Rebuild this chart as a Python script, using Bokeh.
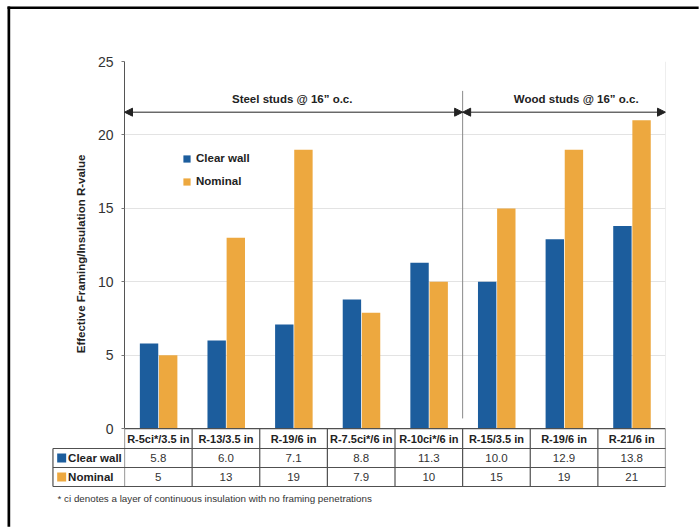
from math import pi

from bokeh.core.properties import value
from bokeh.embed import file_html
from bokeh.models import (Arrow, ColumnDataSource, FactorRange, FixedTicker,
                          Legend, LegendItem, NormalHead, Range1d)
from bokeh.plotting import figure
from bokeh.resources import INLINE
from bokeh.transform import dodge

# ---- data -------------------------------------------------------------
steel_group = "Steel studs @ 16” o.c."
wood_group = "Wood studs @ 16” o.c."
steel_sizes = ["R-5ci*/3.5 in", "R-13/3.5 in", "R-19/6 in", "R-7.5ci*/6 in", "R-10ci*/6 in"]
wood_sizes = ["R-15/3.5 in", "R-19/6 in", "R-21/6 in"]
clear_wall = [5.8, 6.0, 7.1, 8.8, 11.3, 10.0, 12.9, 13.8]
nominal = [5, 13, 19, 7.9, 10, 15, 19, 21]
clear_wall_text = ["5.8", "6.0", "7.1", "8.8", "11.3", "10.0", "12.9", "13.8"]
nominal_text = ["5", "13", "19", "7.9", "10", "15", "19", "21"]
y_ticks = [0, 5, 10, 15, 20, 25]
series_names = ["Clear wall", "Nominal"]
y_title = "Effective Framing/Insulation R-value"
footnote = "* ci denotes a layer of continuous insulation with no framing penetrations"

# ---- styling ----------------------------------------------------------
BLUE = "#1c5d9d"
ORANGE = "#eda83f"
FONT = "Liberation Sans"
TABLE_LINE = "#505050"
INK = "#222222"

factors = [(steel_group, s) for s in steel_sizes] + [(wood_group, s) for s in wood_sizes]
n_steel, n_all = len(steel_sizes), len(factors)

src = ColumnDataSource(dict(x=factors, clear=clear_wall, nominal=nominal,
                            clear_txt=clear_wall_text, nominal_txt=nominal_text,
                            size=steel_sizes + wood_sizes))

p = figure(width=700, height=528, output_backend="svg", toolbar_location=None,
           x_range=FactorRange(*factors, group_padding=0, factor_padding=0,
                               subgroup_padding=0, range_padding=0),
           y_range=Range1d(-5.5, 25), x_axis_location=None,
           min_border_left=124, min_border_right=35, min_border_top=61, min_border_bottom=19)
p.outline_line_color = None
p.background_fill_color = "white"
p.border_fill_color = "white"


def unclipped(renderer):
    # drawn on the overlay level so it may extend past the plotting frame
    renderer.level = "overlay"
    return renderer


# y axis
ax = p.yaxis[0]
ax.ticker = FixedTicker(ticks=y_ticks)
ax.bounds = (0, 25.4)
ax.axis_line_color = "#555555"
ax.major_tick_line_color = "#777777"
ax.major_tick_out = 3
ax.major_tick_in = 0
ax.minor_tick_line_color = None
ax.major_label_standoff = 8
ax.major_label_text_font = FONT
ax.major_label_text_font_size = "14px"
ax.major_label_text_color = "#333333"
p.xgrid.grid_line_color = None
p.ygrid.grid_line_color = "#e3e3e3"
p.ygrid.ticker = FixedTicker(ticks=y_ticks[1:])

# right edge of the plotting area
p.segment(x0=[n_all], y0=[0], x1=[n_all], y1=[25], line_color="#dddddd", line_width=1)

# bars
r_clear = p.vbar(x=dodge("x", -0.137, range=p.x_range), top="clear", width=0.272,
                 source=src, fill_color=BLUE, line_color=None)
r_nom = p.vbar(x=dodge("x", 0.146, range=p.x_range), top="nominal", width=0.272,
               source=src, fill_color=ORANGE, line_color=None)

legend = Legend(items=[LegendItem(label=series_names[0], renderers=[r_clear]),
                       LegendItem(label=series_names[1], renderers=[r_nom])],
                location=(58, 321), orientation="vertical",
                glyph_width=9, glyph_height=9, label_height=14, spacing=9,
                label_standoff=5, padding=0, margin=0,
                border_line_color=None, background_fill_alpha=0,
                label_text_font=FONT, label_text_font_size="11.5px",
                label_text_font_style="bold", label_text_color=INK)
p.add_layout(legend, "center")

# steel / wood separator and span arrows
p.segment(x0=[n_steel], y0=[0.7], x1=[n_steel], y1=[23.0], line_color="#8a8a8a", line_width=1)
arrow_y = 21.55
for x0, x1 in [(0, n_steel), (n_steel, n_all)]:
    p.add_layout(Arrow(x_start=x0, y_start=arrow_y, x_end=x1, y_end=arrow_y,
                       line_color=INK, line_width=1,
                       start=NormalHead(size=8, fill_color=INK, line_color=INK),
                       end=NormalHead(size=8, fill_color=INK, line_color=INK)))
for gx, g in [(n_steel / 2 - 0.02, steel_group), (6.68, wood_group)]:
    p.text(x=[gx], y=[22.47], text=[g], text_font=value(FONT), text_font_size="11.5px",
           text_font_style="bold", text_color=INK, text_align="center",
           text_baseline="middle")

# ---- data table under the bars -----------------------------------------
row_top, row_1, row_2, row_3 = 0, -1.348, -2.641, -3.934
label_left = -1.058
mid_1, mid_2 = (row_1 + row_2) / 2, (row_2 + row_3) / 2
txt_kw = dict(text_font=value(FONT), text_align="center", text_baseline="middle")
unclipped(p.text(x="x", y=(row_top + row_1) / 2, text="size", source=src,
                 text_font_size="11px", text_font_style="bold", text_color=INK, **txt_kw))
p.text(x="x", y=mid_1, text="clear_txt", source=src, text_font_size="11.5px",
       text_color="#333333", **txt_kw)
p.text(x="x", y=mid_2, text="nominal_txt", source=src, text_font_size="11.5px",
       text_color="#333333", **txt_kw)

vx = list(range(n_all + 1))
p.segment(x0=vx, y0=[row_top] * len(vx), x1=vx, y1=[row_3] * len(vx),
          line_color=TABLE_LINE, line_width=1.2)
p.segment(x0=[0], y0=[row_top], x1=[n_all], y1=[row_top], line_color=TABLE_LINE, line_width=1.2)
unclipped(p.segment(x0=[label_left] * 3, y0=[row_1, row_2, row_3], x1=[n_all] * 3,
                    y1=[row_1, row_2, row_3], line_color=TABLE_LINE, line_width=1.2))
unclipped(p.segment(x0=[label_left], y0=[row_1], x1=[label_left], y1=[row_3],
                    line_color=TABLE_LINE, line_width=1.2))
unclipped(p.rect(x=[-0.929, -0.929], y=[mid_1, mid_2], width=9, height=9,
                 width_units="screen", height_units="screen",
                 fill_color=[BLUE, ORANGE], line_color=None))
unclipped(p.text(x=[-0.834, -0.834], y=[mid_1, mid_2], text=series_names,
                 text_font=value(FONT), text_font_size="11.5px", text_font_style="bold",
                 text_color=INK, text_baseline="middle"))

# axis title and footnote
unclipped(p.text(x=[-0.64], y=[11.9], text=[y_title], angle=pi / 2, text_font=value(FONT),
                 text_font_size="11.5px", text_font_style="bold", text_color=INK,
                 text_align="center", text_baseline="middle"))
unclipped(p.text(x=[-0.99], y=[-4.75], text=[footnote], text_font=value(FONT),
                 text_font_size="9.8px", text_color="#333333", text_baseline="middle"))

# outer frame: solid bars along the top and left page edges
unclipped(p.quad(left=[-1.73, -1.73], right=[8.49, -1.69], top=[28.74, 28.74],
                 bottom=[28.57, -6.68], fill_color="black", line_color=None))

open("out.html", "w").write(file_html(p, INLINE))
